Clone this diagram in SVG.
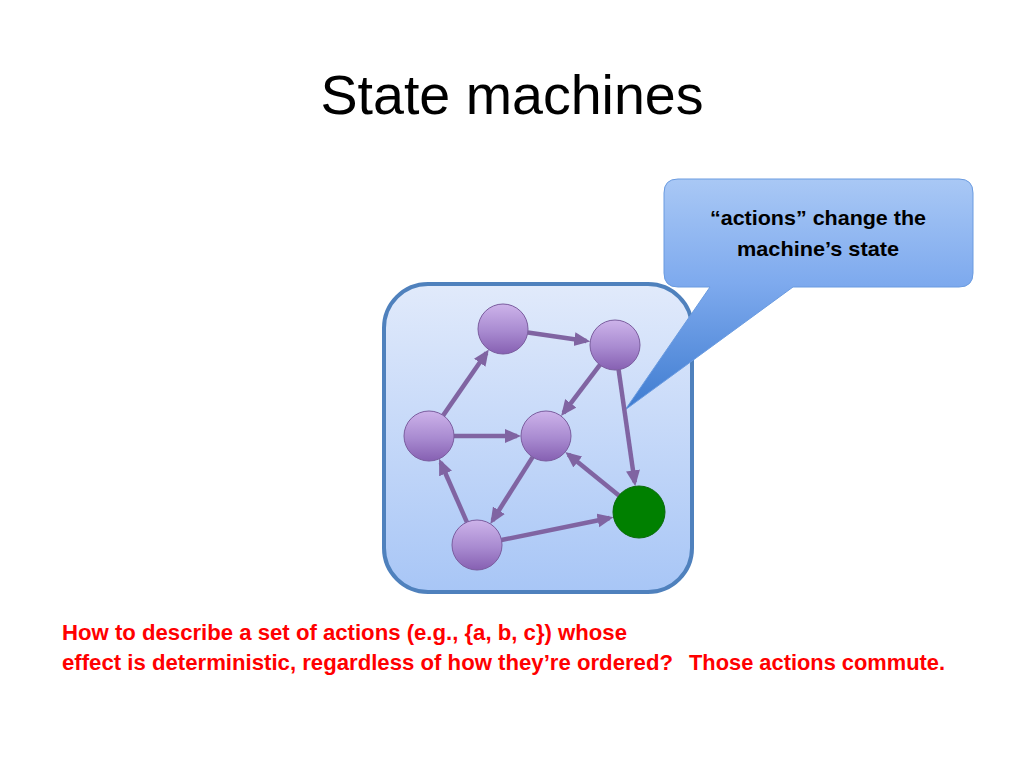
<svg xmlns="http://www.w3.org/2000/svg" width="1024" height="768" viewBox="0 0 1024 768">
<defs>
<linearGradient id="boxG" x1="0" y1="0" x2="0" y2="1">
<stop offset="0" stop-color="#e1eafb"/>
<stop offset="1" stop-color="#a8c6f6"/>
</linearGradient>
<linearGradient id="callG" x1="0" y1="0" x2="0" y2="1">
<stop offset="0" stop-color="#a9c8f5"/>
<stop offset="0.45" stop-color="#7eaaee"/>
<stop offset="1" stop-color="#3f7cd0"/>
</linearGradient>
<linearGradient id="nodeG" x1="0" y1="0" x2="0" y2="1">
<stop offset="0" stop-color="#cdb3ea"/>
<stop offset="0.55" stop-color="#a88ad0"/>
<stop offset="1" stop-color="#8660b2"/>
</linearGradient>
<marker id="arr" markerUnits="userSpaceOnUse" markerWidth="18" markerHeight="16" refX="12" refY="7" orient="auto">
<path d="M0,0 L16,7 L0,14 z" fill="#8064a2"/>
</marker>
<style>
.edge{stroke:#8064a2;stroke-width:4.5;fill:none;marker-end:url(#arr)}
.node{fill:url(#nodeG);stroke:#7a5c9e;stroke-width:1}
.red{font-family:"Liberation Sans",Arial,sans-serif;font-weight:bold;font-size:22px;fill:#ff0000}
.call{font-family:"Liberation Sans",Arial,sans-serif;font-weight:bold;font-size:21px;fill:#000000}
</style>
</defs>
<rect width="1024" height="768" fill="#ffffff"/>
<text x="512" y="114" text-anchor="middle" font-family="Liberation Sans, Arial, sans-serif" font-size="55" fill="#000000" textLength="383" lengthAdjust="spacingAndGlyphs">State machines</text>

<g id="container">
<rect x="384" y="284" width="308" height="308" rx="44" ry="44" fill="url(#boxG)" stroke="#4f81bd" stroke-width="4"/>
</g>

<g id="callout">
<path d="M678,179 H959 Q973,179 973,193 V273 Q973,287 959,287 H793 L625,410 L710,287 H678 Q664,287 664,273 V193 Q664,179 678,179 Z" fill="url(#callG)" stroke="#6a9be0" stroke-width="1"/>
<text class="call" x="818" y="225" text-anchor="middle" textLength="216" lengthAdjust="spacingAndGlyphs">“actions” change the</text>
<text class="call" x="818" y="256" text-anchor="middle" textLength="162" lengthAdjust="spacingAndGlyphs">machine’s state</text>
</g>

<g id="connectors">
<line class="edge" x1="527.8" y1="332.5" x2="586.3" y2="340.9"/>
<line class="edge" x1="443.2" y1="415.4" x2="486.5" y2="352.8"/>
<line class="edge" x1="454" y1="436" x2="517" y2="436"/>
<line class="edge" x1="599.9" y1="364.9" x2="563.5" y2="412.9"/>
<line class="edge" x1="618.6" y1="369.7" x2="634.7" y2="482.3"/>
<line class="edge" x1="532.6" y1="457.1" x2="492.5" y2="520.5"/>
<line class="edge" x1="466.9" y1="522.1" x2="440.7" y2="462.5"/>
<line class="edge" x1="501.5" y1="540" x2="609.6" y2="518"/>
<line class="edge" x1="618.9" y1="495.5" x2="568.4" y2="454.4"/>
</g>

<g id="nodeA"><circle class="node" cx="503" cy="329" r="25"/></g>
<g id="nodeB"><circle class="node" cx="615" cy="345" r="25"/></g>
<g id="nodeC"><circle class="node" cx="429" cy="436" r="25"/></g>
<g id="nodeD"><circle class="node" cx="546" cy="436" r="25"/></g>
<g id="nodeE"><circle class="node" cx="477" cy="545" r="25"/></g>
<g id="nodeF"><circle cx="639" cy="512" r="26" fill="#008000" stroke="#0a6a0a" stroke-width="1"/></g>

<g id="caption">
<text class="red" x="62" y="640" textLength="565" lengthAdjust="spacingAndGlyphs">How to describe a set of actions (e.g., {a, b, c}) whose</text>
<text class="red" x="62" y="670" textLength="611" lengthAdjust="spacingAndGlyphs">effect is deterministic, regardless of how they’re ordered?</text>
<text class="red" x="689" y="670" textLength="256" lengthAdjust="spacingAndGlyphs">Those actions commute.</text>
</g>
</svg>
